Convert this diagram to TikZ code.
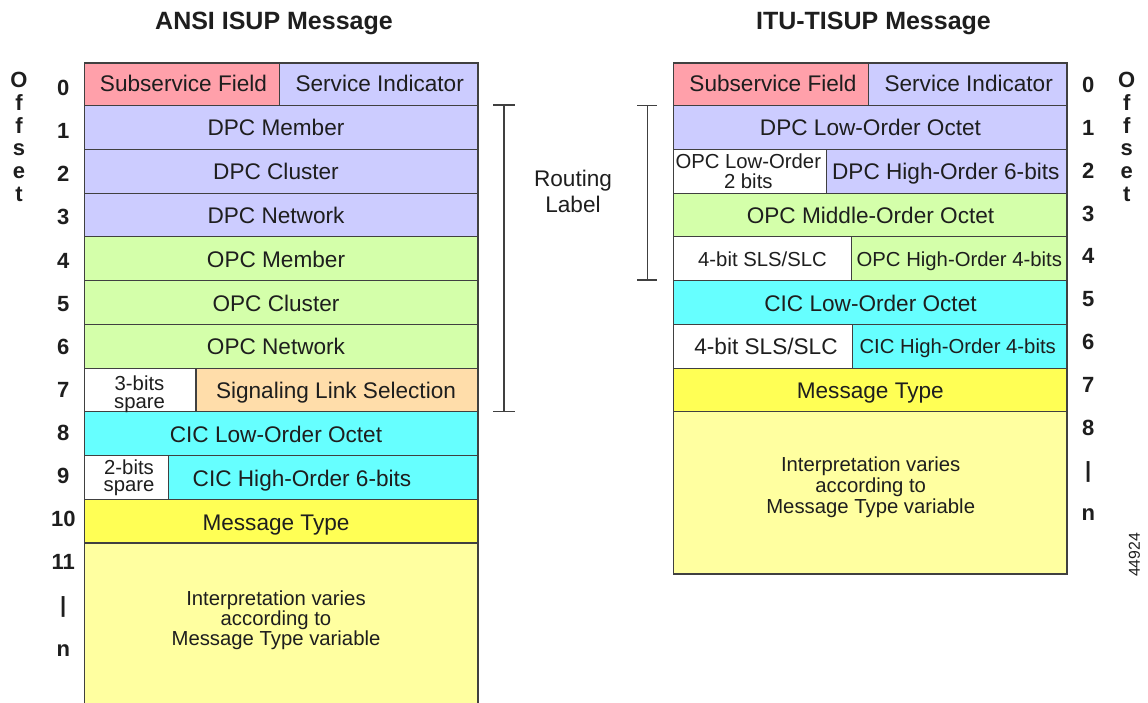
\documentclass[tikz,border=0pt]{standalone}
\usepackage{fontspec}
\setmainfont{Liberation Sans}
\definecolor{pinkF}{RGB}{255,160,170}
\definecolor{lavF}{RGB}{204,204,255}
\definecolor{greenF}{RGB}{212,255,170}
\definecolor{peachF}{RGB}{255,221,170}
\definecolor{cyanF}{RGB}{102,255,255}
\definecolor{yellowF}{RGB}{255,255,85}
\definecolor{paleF}{RGB}{255,255,160}
\definecolor{edge}{RGB}{64,64,64}
\definecolor{ink}{RGB}{30,30,30}
\begin{document}
\begin{tikzpicture}[x=1pt,y=-1pt,
  cell/.style={draw=edge,line width=1.2pt},
  txt/.style={anchor=base,inner sep=0pt,text=ink,font=\fontsize{22.6}{26}\selectfont},
  stxt/.style={anchor=base,inner sep=0pt,text=ink,font=\fontsize{20.3}{20.5}\selectfont},
  num/.style={anchor=base,inner sep=0pt,text=ink,font=\fontsize{22}{24}\selectfont\bfseries},
  ttl/.style={anchor=base,inner sep=0pt,text=ink,font=\fontsize{25}{28}\selectfont\bfseries},
  brk/.style={draw=edge,line width=1.1pt}]
\useasboundingbox (0,0) rectangle (1148,703);

% ---------- ANSI ISUP message fields ----------
\filldraw[cell,fill=pinkF]   (84.3,63)    rectangle (279.7,105.7);
\filldraw[cell,fill=lavF]    (279.7,63)   rectangle (478,105.7);
\filldraw[cell,fill=lavF]    (84.3,105.7) rectangle (478,149.5);
\filldraw[cell,fill=lavF]    (84.3,149.5) rectangle (478,193.2);
\filldraw[cell,fill=lavF]    (84.3,193.2) rectangle (478,236.9);
\filldraw[cell,fill=greenF]  (84.3,236.9) rectangle (478,280.7);
\filldraw[cell,fill=greenF]  (84.3,280.7) rectangle (478,324.4);
\filldraw[cell,fill=greenF]  (84.3,324.4) rectangle (478,368.1);
\filldraw[cell,fill=white]   (84.3,368.1) rectangle (196,411.8);
\filldraw[cell,fill=peachF]  (196,368.1)  rectangle (478,411.8);
\filldraw[cell,fill=cyanF]   (84.3,411.8) rectangle (478,455.6);
\filldraw[cell,fill=white]   (84.3,455.6) rectangle (168.7,499.3);
\filldraw[cell,fill=cyanF]   (168.7,455.6) rectangle (478,499.3);
\filldraw[cell,fill=yellowF] (84.3,499.3) rectangle (478,543);
\fill[paleF] (84.3,543) rectangle (478,705);
\draw[cell] (84.3,705) -- (84.3,543) -- (478,543) -- (478,705);

\node[txt] (aSub) at (183.5,91.7) {Subservice Field};
\node[txt] (aSI)  at (379.7,91.7) {Service Indicator};
\node[txt] (aDm)  at (276,135.6) {DPC Member};
\node[txt] (aDc)  at (276,179.4) {DPC Cluster};
\node[txt] (aDn)  at (276,223.3) {DPC Network};
\node[txt] (aOm)  at (276,267.2) {OPC Member};
\node[txt] (aOc)  at (276,311.1) {OPC Cluster};
\node[txt] (aOn)  at (276,354.9) {OPC Network};
\node[stxt] (aSp3a) at (139.5,390) {3-bits};
\node[stxt] (aSp3b) at (139.5,408.5) {spare};
\node[txt] (aSls) at (336,398.8) {Signaling Link Selection};
\node[txt] (aCl)  at (276,442.7) {CIC Low-Order Octet};
\node[stxt] (aSp2a) at (129,474) {2-bits};
\node[stxt] (aSp2b) at (129,491) {spare};
\node[txt] (aCh)  at (302,486.5) {CIC High-Order 6-bits};
\node[txt] (aMt)  at (276,530.4) {Message Type};
\node[stxt] (aIa) at (276,605) {Interpretation varies};
\node[stxt] (aIb) at (276,625) {according to};
\node[stxt] (aIc) at (276,645) {Message Type variable};

% ---------- ITU-T ISUP message fields ----------
\filldraw[cell,fill=pinkF]   (673.3,63)    rectangle (868.7,105.7);
\filldraw[cell,fill=lavF]    (868.7,63)    rectangle (1067,105.7);
\filldraw[cell,fill=lavF]    (673.3,105.7) rectangle (1067,149.5);
\filldraw[cell,fill=white]   (673.3,149.5) rectangle (826.7,193.2);
\filldraw[cell,fill=lavF]    (826.7,149.5) rectangle (1067,193.2);
\filldraw[cell,fill=greenF]  (673.3,193.2) rectangle (1067,236.9);
\filldraw[cell,fill=white]   (673.3,236.9) rectangle (851.3,280.7);
\filldraw[cell,fill=greenF]  (851.3,236.9) rectangle (1067,280.7);
\filldraw[cell,fill=cyanF]   (673.3,280.7) rectangle (1067,324.4);
\filldraw[cell,fill=white]   (673.3,324.4) rectangle (852.3,368.1);
\filldraw[cell,fill=cyanF]   (852.3,324.4) rectangle (1067,368.1);
\filldraw[cell,fill=yellowF] (673.3,368.1) rectangle (1067,411.8);
\filldraw[cell,fill=paleF]   (673.3,411.8) rectangle (1067,574);

\node[txt] (bSub) at (773,91.7) {Subservice Field};
\node[txt] (bSI)  at (968.7,91.7) {Service Indicator};
\node[txt] (bDl)  at (870.5,135.6) {DPC Low-Order Octet};
\node[stxt] (bOla) at (748.3,168.3) {OPC Low-Order};
\node[stxt] (bOlb) at (748.3,188.3) {2 bits};
\node[txt] (bDh)  at (945.8,179.4) {DPC High-Order 6-bits};
\node[txt] (bOm)  at (870.5,223.3) {OPC Middle-Order Octet};
\node[stxt] (bSa) at (762.5,266) {4-bit SLS/SLC};
\node[stxt] (bOh) at (959.3,266) {OPC High-Order 4-bits};
\node[txt] (bCl)  at (870.5,311.1) {CIC Low-Order Octet};
\node[txt] (bSb)  at (766,354.9) {4-bit SLS/SLC};
\node[stxt] (bCh) at (957.7,353.3) {CIC High-Order 4-bits};
\node[txt] (bMt)  at (870.3,398.8) {Message Type};
\node[stxt] (bIa) at (870.7,471.7) {Interpretation varies};
\node[stxt] (bIb) at (870.7,492.5) {according to};
\node[stxt] (bIc) at (870.7,513.3) {Message Type variable};

% ---------- titles ----------
\node[ttl] (tA) at (274,30) {ANSI ISUP Message};
\node[ttl] (tB) at (873.5,30) {ITU-TISUP Message};

% ---------- octet offsets ----------
\foreach \lab [count=\k from 0] in {0,1,2,3,4,5,6,7,8,9,10,11,|,n}
  \node[num] (nl\k) at (63.3,95.7+43.1*\k) {\lab};
\foreach \lab [count=\k from 0] in {0,1,2,3,4,5,6,7,8,|,n}
  \node[num] (nr\k) at (1088.3,92.7+42.8*\k) {\lab};
\foreach \ch [count=\k from 0] in {O,f,f,s,e,t}{
  \node[num] (ol\k) at (19,87.3+22.9*\k) {\ch};
  \node[num] (or\k) at (1126.7,87.3+22.9*\k) {\ch};
}

% ---------- routing label brackets ----------
\coordinate (bLt) at (504,105);
\coordinate (bLb) at (504,411.7);
\draw[brk] (bLt) -- (bLb);
\draw[brk] ([xshift=-11pt]bLt) -- ([xshift=11pt]bLt);
\draw[brk] ([xshift=-11pt]bLb) -- ([xshift=11pt]bLb);
\coordinate (bRt) at (647.3,105.7);
\coordinate (bRb) at (647.3,280);
\draw[brk] (bRt) -- (bRb);
\draw[brk] ([xshift=-10pt]bRt) -- ([xshift=10pt]bRt);
\draw[brk] ([xshift=-10pt]bRb) -- ([xshift=10pt]bRb);
\node[txt] (rtA) at (573,186.7) {Routing};
\node[txt] (rtB) at (573,213) {Label};

% ---------- figure number ----------
\node[inner sep=0pt,text=ink,rotate=90,font=\fontsize{15.8}{18}\selectfont] (fig) at (1134.5,555) {44924};
\end{tikzpicture}
\end{document}
